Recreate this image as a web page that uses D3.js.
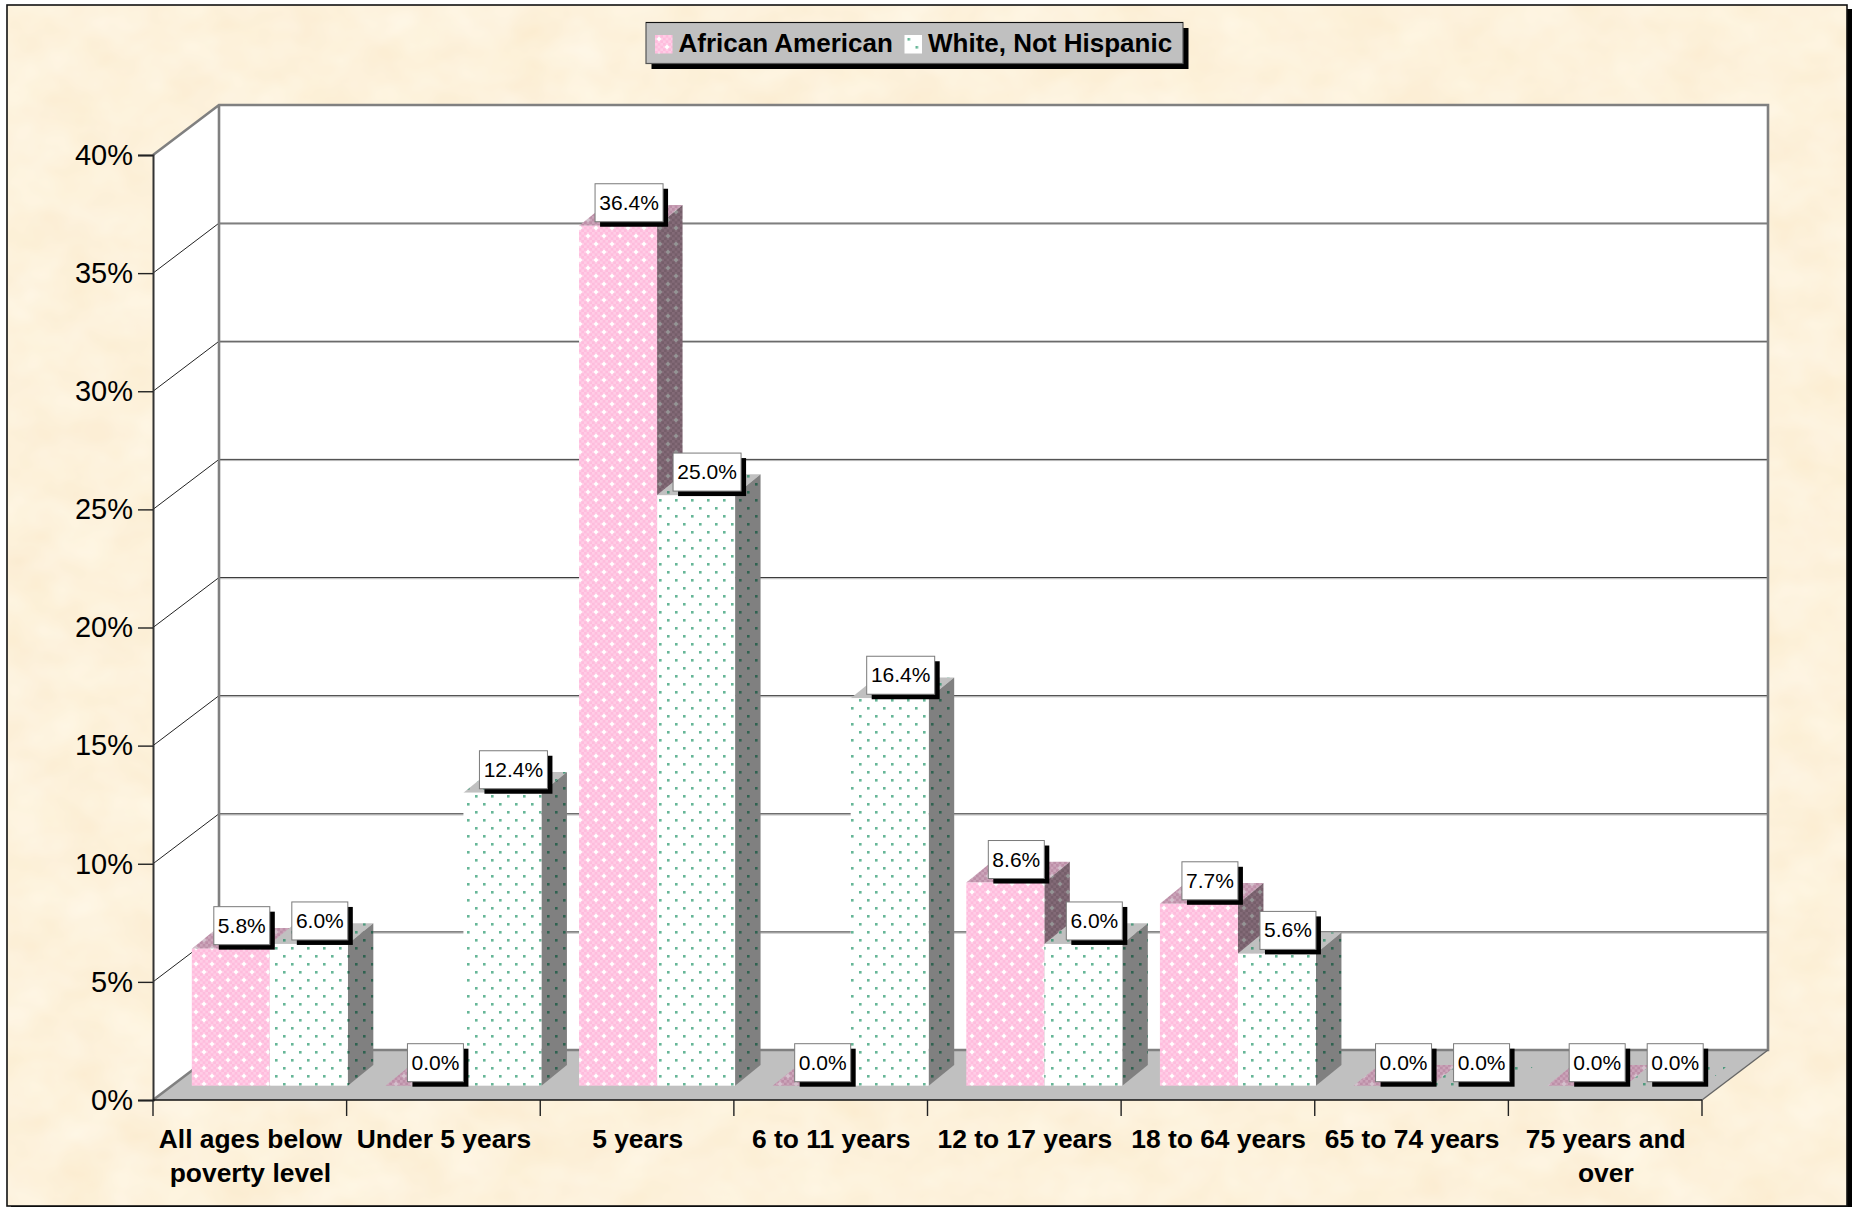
<!DOCTYPE html>
<html>
<head>
<meta charset="utf-8">
<title>Poverty by age</title>
<script src="https://cdn.jsdelivr.net/npm/d3@7"></script>
<style>
  html, body { margin: 0; padding: 0; background: #fff; }
  svg { display: block; }
  text { font-family: "Liberation Sans", Arial, sans-serif; fill: #000; }
</style>
</head>
<body>
<div id="chart"></div>
<script>
// chart data
var categories = [
  "All ages below|poverty level", "Under 5 years", "5 years", "6 to 11 years",
  "12 to 17 years", "18 to 64 years", "65 to 74 years", "75 years and|over"
];
var seriesNames = ["African American", "White, Not Hispanic"];
var africanAmerican = [5.8, 0, 36.4, 0, 8.6, 7.7, 0, 0];
var whiteNotHispanic = [6.0, 12.4, 25.0, 16.4, 6.0, 5.6, 0, 0];
var yTicks = [0, 5, 10, 15, 20, 25, 30, 35, 40];

var seriesValues = [africanAmerican, whiteNotHispanic];
var seriesKeys = ["pink", "green"];

var svg = d3.select("#chart").append("svg")
  .attr("width", 1856)
  .attr("height", 1207);
var defs = svg.append("defs");

// the plot box: front plane, and how far the back wall is pushed away
var plot = {left: 153, right: 1702, top: 155, bottom: 1100};
var wall = {dx: 66, dy: 50};
// bars stand inside the box, so their front face is shifted from the front plane
var bar = {shiftX: 20, shiftY: 14.3, sideX: 25.5, sideY: 20.8};

var x = d3.scaleBand().domain(categories).range([plot.left, plot.right]);
var xInner = d3.scaleBand().domain(seriesNames)
  .range([0, x.bandwidth()])
  .paddingInner(0)
  .paddingOuter(0.241);
var y = d3.scaleLinear().domain([0, 40]).range([plot.bottom, plot.top]);

// ** patterns
function checkPattern(id, c1, c2, dot) {
  var p = defs.append("pattern")
    .attr("id", id)
    .attr("patternUnits", "userSpaceOnUse")
    .attr("width", 16).attr("height", 16);
  p.append("rect").attr("width", 16).attr("height", 16).attr("fill", c1);
  var n = 6, s = 16 / n;
  for (var i = 0; i < n; i++) {
    for (var j = 0; j < n; j++) {
      if ((i + j) % 2) {
        p.append("rect").attr("x", i * s).attr("y", j * s)
          .attr("width", s).attr("height", s).attr("fill", c2);
      }
    }
  }
  [[4, 4], [12, 12]].forEach(function(d) {
    p.append("path")
      .attr("d", "M" + (d[0] - 2.5) + "," + d[1] + "L" + d[0] + "," + (d[1] - 2.5) +
                 "L" + (d[0] + 2.5) + "," + d[1] + "L" + d[0] + "," + (d[1] + 2.5) + "Z")
      .attr("fill", dot);
  });
}
function dotPattern(id, bg, dot) {
  var p = defs.append("pattern")
    .attr("id", id)
    .attr("patternUnits", "userSpaceOnUse")
    .attr("width", 16).attr("height", 16);
  p.append("rect").attr("width", 16).attr("height", 16).attr("fill", bg);
  [[3, 3], [11, 11]].forEach(function(d) {
    p.append("rect").attr("x", d[0]).attr("y", d[1])
      .attr("width", 2.6).attr("height", 2.6).attr("fill", dot);
  });
}
checkPattern("pink-front", "#ffbcdd", "#ffcde6", "#ffffff");
checkPattern("pink-side", "#755e6a", "#836a77", "#949494");
checkPattern("pink-top", "#bd8fa8", "#cba4b9", "#d4c0cc");
dotPattern("green-front", "#ffffff", "#66b697");
dotPattern("green-side", "#808080", "#2f6250");
dotPattern("green-top", "#c0c0c0", "#4f9a7e");

// parchment texture for the panel, one noise channel drives all colours
var paper = defs.append("filter").attr("id", "paper")
  .attr("x", 0).attr("y", 0).attr("width", 1).attr("height", 1)
  .attr("color-interpolation-filters", "sRGB");
paper.append("feTurbulence")
  .attr("type", "fractalNoise")
  .attr("baseFrequency", "0.018 0.024")
  .attr("numOctaves", 3)
  .attr("seed", 7);
paper.append("feColorMatrix")
  .attr("type", "matrix")
  .attr("values",
    "0.015 0 0 0 0.984 " +
    "0.05 0 0 0 0.922 " +
    "0.10 0.02 0 0 0.80 " +
    "0 0 0 0 1");

// ** panel
svg.append("rect")
  .attr("x", 11).attr("y", 9)
  .attr("width", 1841).attr("height", 1198)
  .attr("fill", "#000");
svg.append("rect")
  .attr("x", 7).attr("y", 5)
  .attr("width", 1840).attr("height", 1201)
  .attr("fill", "#fdf1d8")
  .attr("filter", "url(#paper)");
svg.append("rect")
  .attr("x", 7).attr("y", 5)
  .attr("width", 1840).attr("height", 1201)
  .attr("fill", "none")
  .attr("stroke", "#111")
  .attr("stroke-width", 1.6);

// ** walls and floor
var backLeft = plot.left + wall.dx,
    backRight = plot.right + wall.dx,
    backTop = plot.top - wall.dy,
    backBottom = plot.bottom - wall.dy;

function poly(points) {
  return "M" + points.map(function(p) { return p.join(","); }).join("L") + "Z";
}

svg.append("path")
  .attr("d", poly([[plot.left, plot.top], [backLeft, backTop], [backLeft, backBottom], [plot.left, plot.bottom]]))
  .attr("fill", "#fff");
svg.append("rect")
  .attr("x", backLeft).attr("y", backTop)
  .attr("width", backRight - backLeft).attr("height", backBottom - backTop)
  .attr("fill", "#fff");

// gridlines, back wall and left wall
var grid = svg.append("g").attr("class", "grid");
grid.selectAll(".shade")
  .data(yTicks.slice(1, -1))
  .enter().append("line")
  .attr("x1", backLeft).attr("x2", backRight)
  .attr("y1", function(d) { return y(d) - wall.dy + 1.2; })
  .attr("y2", function(d) { return y(d) - wall.dy + 1.2; })
  .attr("stroke", "#b4b4b4")
  .attr("stroke-width", 1);
grid.selectAll(".back")
  .data(yTicks.slice(1, -1))
  .enter().append("line")
  .attr("x1", backLeft).attr("x2", backRight)
  .attr("y1", function(d) { return y(d) - wall.dy; })
  .attr("y2", function(d) { return y(d) - wall.dy; })
  .attr("stroke", "#3c3c3c")
  .attr("stroke-width", 1);
grid.selectAll(".side")
  .data(yTicks.slice(1, -1))
  .enter().append("line")
  .attr("x1", plot.left).attr("x2", backLeft)
  .attr("y1", function(d) { return y(d); })
  .attr("y2", function(d) { return y(d) - wall.dy; })
  .attr("stroke", "#222")
  .attr("stroke-width", 1);

// floor
svg.append("path")
  .attr("d", poly([[plot.left, plot.bottom], [plot.right, plot.bottom], [backRight, backBottom], [backLeft, backBottom]]))
  .attr("fill", "#c0c0c0");

// wall outline
svg.append("path")
  .attr("d", "M" + plot.left + "," + plot.top + "L" + backLeft + "," + backTop +
             "L" + backRight + "," + backTop + "L" + backRight + "," + backBottom +
             "L" + backLeft + "," + backBottom + "L" + plot.left + "," + plot.bottom +
             "M" + backLeft + "," + backTop + "L" + backLeft + "," + backBottom)
  .attr("fill", "none")
  .attr("stroke", "#808080")
  .attr("stroke-width", 2.6);
svg.append("line")
  .attr("x1", plot.right).attr("y1", plot.bottom)
  .attr("x2", backRight).attr("y2", backBottom)
  .attr("stroke", "#666")
  .attr("stroke-width", 1.4);

// ** bars, each with front, side and top faces
var cells = [];
categories.forEach(function(c, i) {
  seriesNames.forEach(function(s, k) {
    cells.push({
      category: c,
      series: s,
      key: seriesKeys[k],
      value: seriesValues[k][i],
      x0: x(c) + xInner(s) + bar.shiftX,
      x1: x(c) + xInner(s) + bar.shiftX + xInner.bandwidth(),
      top: y(seriesValues[k][i]) - bar.shiftY,
      base: y(0) - bar.shiftY
    });
  });
});

var bars = svg.append("g").attr("class", "bars").selectAll("g")
  .data(cells)
  .enter().append("g");

bars.append("path") // top
  .attr("d", function(d) {
    return poly([[d.x0, d.top], [d.x1, d.top], [d.x1 + bar.sideX, d.top - bar.sideY], [d.x0 + bar.sideX, d.top - bar.sideY]]);
  })
  .attr("fill", function(d) { return "url(#" + d.key + "-top)"; });
bars.filter(function(d) { return d.value > 0; }).append("path") // side
  .attr("d", function(d) {
    return poly([[d.x1, d.top], [d.x1 + bar.sideX, d.top - bar.sideY], [d.x1 + bar.sideX, d.base - bar.sideY], [d.x1, d.base]]);
  })
  .attr("fill", function(d) { return "url(#" + d.key + "-side)"; });
bars.filter(function(d) { return d.value > 0; }).append("rect") // front
  .attr("x", function(d) { return d.x0; })
  .attr("y", function(d) { return d.top; })
  .attr("width", xInner.bandwidth())
  .attr("height", function(d) { return d.base - d.top; })
  .attr("fill", function(d) { return "url(#" + d.key + "-front)"; });

// ** axes
var yAxis = svg.append("g")
  .attr("class", "axis y-axis")
  .attr("transform", "translate(" + plot.left + ",0)")
  .call(d3.axisLeft(y).tickValues(yTicks).tickSize(15).tickPadding(5)
    .tickFormat(function(d) { return d + "%"; }));
yAxis.select(".domain").attr("stroke", "#333").attr("stroke-width", 2);
yAxis.selectAll(".tick line").attr("stroke", "#222").attr("stroke-width", 1.4);
yAxis.selectAll("text")
  .style("font-family", '"Liberation Sans", Arial, sans-serif')
  .style("font-size", "29px")
  .attr("fill", "#000");

var xAxis = svg.append("g")
  .attr("class", "axis x-axis")
  .attr("transform", "translate(0," + plot.bottom + ")")
  .call(d3.axisBottom(x).tickSize(0).tickFormat(""));
xAxis.select(".domain").remove();

svg.append("line")
  .attr("x1", plot.left).attr("x2", plot.right)
  .attr("y1", plot.bottom).attr("y2", plot.bottom)
  .attr("stroke", "#111").attr("stroke-width", 1.6);

// category separators: left edge of each band, plus the last right edge
svg.selectAll(".xtick")
  .data(categories.map(function(c) { return x(c); }).concat([x.range()[1]]))
  .enter().append("line")
  .attr("class", "xtick")
  .attr("x1", function(d) { return d; })
  .attr("x2", function(d) { return d; })
  .attr("y1", plot.bottom).attr("y2", plot.bottom + 16)
  .attr("stroke", "#222").attr("stroke-width", 1.4);

var xLabels = svg.selectAll(".xlabel")
  .data(categories)
  .enter().append("text")
  .attr("class", "xlabel")
  .attr("text-anchor", "middle")
  .attr("font-weight", "bold")
  .attr("font-size", 26.4);
xLabels.selectAll("tspan")
  .data(function(d) { return d.split("|").map(function(t) { return {c: d, t: t}; }); })
  .enter().append("tspan")
  .attr("x", function(d) { return x(d.c) + x.bandwidth() / 2 + 0.6; })
  .attr("y", function(d, i) { return 1148 + i * 34; })
  .text(function(d) { return d.t; });

// ** data labels, box follows the text width and sits over the bar's depth centre
var boxH = 38, shadow = 5;
function boxW(d) { return d.value >= 10 ? 68 : 56; }
var labels = svg.append("g").attr("class", "labels").selectAll("g")
  .data(cells)
  .enter().append("g")
  .attr("transform", function(d) {
    var cx = (d.x0 + d.x1) / 2 + 11;
    return "translate(" + (cx - boxW(d) / 2) + "," + (d.top - 4 - boxH) + ")";
  });
labels.append("rect")
  .attr("x", shadow).attr("y", shadow)
  .attr("width", boxW).attr("height", boxH)
  .attr("fill", "#000");
labels.append("rect")
  .attr("width", boxW).attr("height", boxH)
  .attr("fill", "#fff")
  .attr("stroke", "#7a7a7a")
  .attr("stroke-width", 1);
labels.append("text")
  .attr("x", function(d) { return boxW(d) / 2; })
  .attr("y", 26)
  .attr("text-anchor", "middle")
  .attr("font-size", 21)
  .text(function(d) { return d.value.toFixed(1) + "%"; });

// ** legend
var legend = svg.append("g").attr("class", "legend");
legend.append("rect")
  .attr("x", 651.5).attr("y", 28)
  .attr("width", 537).attr("height", 41)
  .attr("fill", "#000");
legend.append("rect")
  .attr("x", 646).attr("y", 22.5)
  .attr("width", 537).attr("height", 41)
  .attr("fill", "#c0c0c0")
  .attr("stroke", "#555")
  .attr("stroke-width", 1.2);
legend.append("line")
  .attr("x1", 646).attr("x2", 1183)
  .attr("y1", 22.5).attr("y2", 22.5)
  .attr("stroke", "#111")
  .attr("stroke-width", 1.2);
var legendX = [655, 904.5];
var legendItems = legend.selectAll(".item")
  .data(seriesNames)
  .enter().append("g")
  .attr("class", "item")
  .attr("transform", function(d, i) { return "translate(" + legendX[i] + ",35)"; });
legendItems.append("rect")
  .attr("width", 17.5).attr("height", 18.5)
  .attr("fill", function(d, i) { return "url(#" + seriesKeys[i] + "-front)"; });
legendItems.append("text")
  .attr("x", 23.5)
  .attr("y", 16.8)
  .attr("font-weight", "bold")
  .attr("font-size", 26)
  .text(function(d) { return d; });
</script>
</body>
</html>
